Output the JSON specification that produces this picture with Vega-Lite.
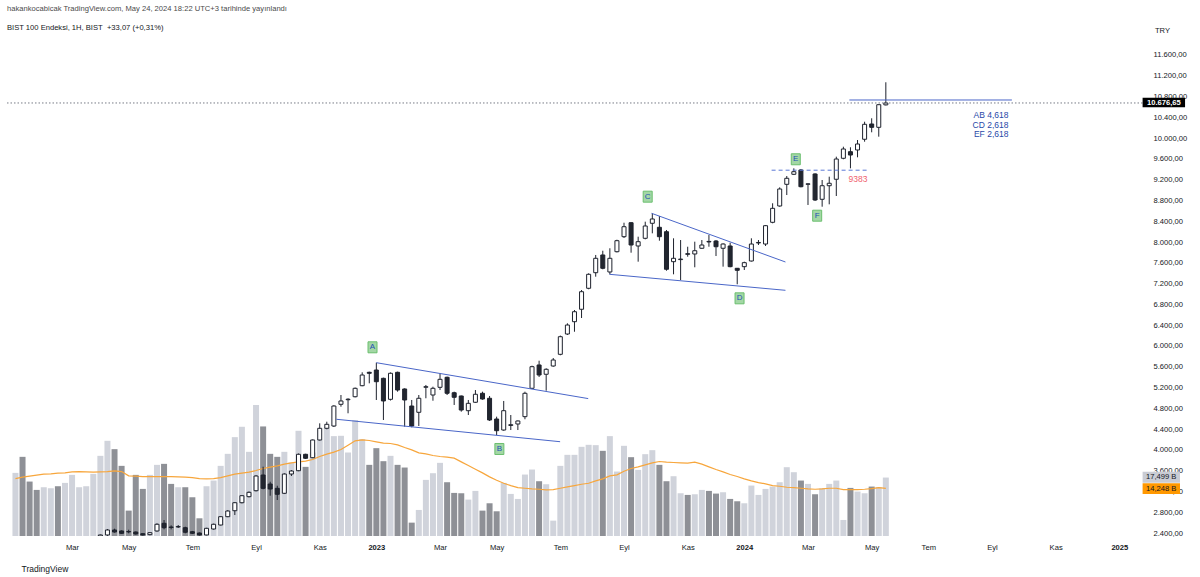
{
  "$schema": "https://vega.github.io/schema/vega-lite/v6.json",
  "width": 1139,
  "height": 496,
  "autosize": {"type": "none"},
  "padding": {"left": 7, "top": 40, "right": 54, "bottom": 41},
  "background": "white",
  "config": {"view": {"stroke": null}, "font": "Liberation Sans", "axis": {"labelOverlap": false}},
  "title": {
    "text": "hakankocabicak TradingView.com, May 24, 2024 18:22 UTC+3 tarihinde yayınlandı",
    "subtitle": "\u00a0\u00a0BIST 100 Endeksi, 1H, BIST\u00a0\u00a0+33,07 (+0,31%)",
    "anchor": "start", "frame": "group", "offset": -6,
    "font": "Liberation Sans", "fontSize": 7.6, "fontWeight": "normal", "color": "#4a4a4a",
    "subtitleFont": "Liberation Sans", "subtitleFontSize": 7.6, "subtitleColor": "#131722", "subtitlePadding": 12
  },
  "datasets": {
    "bars": [
      {"date":"2022-01-10","open":1900,"high":1990,"low":1890,"close":1975,"vol":18.9,"vma":17.2},
      {"date":"2022-01-17","open":1975,"high":1990,"low":1930,"close":1945,"vol":23.7,"vma":17.6},
      {"date":"2022-01-24","open":1945,"high":1960,"low":1900,"close":1920,"vol":16.3,"vma":17.9},
      {"date":"2022-01-31","open":1920,"high":1935,"low":1880,"close":1900,"vol":13.8,"vma":18.2},
      {"date":"2022-02-07","open":1900,"high":2000,"low":1895,"close":1990,"vol":14.6,"vma":18.5},
      {"date":"2022-02-14","open":1990,"high":2040,"low":1970,"close":2030,"vol":14.3,"vma":18.6},
      {"date":"2022-02-21","open":2030,"high":2045,"low":1950,"close":1990,"vol":14.9,"vma":18.8},
      {"date":"2022-02-28","open":1990,"high":2080,"low":1980,"close":2070,"vol":15.9,"vma":18.9},
      {"date":"2022-03-07","open":2070,"high":2140,"low":2030,"close":2130,"vol":18.3,"vma":19.2},
      {"date":"2022-03-14","open":2130,"high":2190,"low":2110,"close":2180,"vol":14.6,"vma":19.3},
      {"date":"2022-03-21","open":2180,"high":2240,"low":2160,"close":2230,"vol":14.9,"vma":19.2},
      {"date":"2022-03-28","open":2230,"high":2330,"low":2220,"close":2320,"vol":18.6,"vma":19.1},
      {"date":"2022-04-04","open":2340,"high":2370,"low":2330,"close":2362,"vol":24.0,"vma":19.2},
      {"date":"2022-04-11","open":2362,"high":2477,"low":2345,"close":2458,"vol":28.5,"vma":19.3},
      {"date":"2022-04-18","open":2458,"high":2483,"low":2406,"close":2419,"vol":26.0,"vma":19.5},
      {"date":"2022-04-25","open":2439,"high":2450,"low":2385,"close":2394,"vol":21.0,"vma":19.3},
      {"date":"2022-05-02","open":2428,"high":2463,"low":2394,"close":2422,"vol":7.6,"vma":18.0},
      {"date":"2022-05-09","open":2419,"high":2430,"low":2370,"close":2381,"vol":18.3,"vma":17.9},
      {"date":"2022-05-16","open":2387,"high":2395,"low":2350,"close":2362,"vol":14.1,"vma":17.8},
      {"date":"2022-05-23","open":2368,"high":2415,"low":2355,"close":2406,"vol":18.3,"vma":17.8},
      {"date":"2022-05-30","open":2439,"high":2587,"low":2425,"close":2568,"vol":21.3,"vma":17.8},
      {"date":"2022-06-06","open":2587,"high":2650,"low":2471,"close":2502,"vol":21.6,"vma":17.8},
      {"date":"2022-06-13","open":2515,"high":2548,"low":2471,"close":2507,"vol":15.6,"vma":17.8},
      {"date":"2022-06-20","open":2516,"high":2554,"low":2496,"close":2524,"vol":14.6,"vma":17.7},
      {"date":"2022-06-27","open":2502,"high":2521,"low":2394,"close":2414,"vol":14.6,"vma":17.6},
      {"date":"2022-07-04","open":2425,"high":2440,"low":2380,"close":2394,"vol":11.6,"vma":17.5},
      {"date":"2022-07-11","open":2400,"high":2410,"low":2350,"close":2362,"vol":5.3,"vma":17.2},
      {"date":"2022-07-18","open":2362,"high":2500,"low":2355,"close":2490,"vol":14.9,"vma":17.1},
      {"date":"2022-07-25","open":2477,"high":2580,"low":2465,"close":2568,"vol":16.6,"vma":17.2},
      {"date":"2022-08-01","open":2554,"high":2725,"low":2545,"close":2714,"vol":21.0,"vma":17.5},
      {"date":"2022-08-08","open":2714,"high":2840,"low":2705,"close":2823,"vol":24.6,"vma":18.0},
      {"date":"2022-08-15","open":2829,"high":2995,"low":2746,"close":2983,"vol":29.6,"vma":18.5},
      {"date":"2022-08-22","open":2983,"high":3130,"low":2970,"close":3118,"vol":32.7,"vma":18.8},
      {"date":"2022-08-29","open":3099,"high":3200,"low":3085,"close":3183,"vol":25.2,"vma":19.1},
      {"date":"2022-09-05","open":3214,"high":3515,"low":3200,"close":3497,"vol":39.2,"vma":19.6},
      {"date":"2022-09-12","open":3516,"high":3676,"low":3241,"close":3260,"vol":32.8,"vma":20.2},
      {"date":"2022-09-19","open":3343,"high":3387,"low":3118,"close":3247,"vol":24.6,"vma":20.6},
      {"date":"2022-09-26","open":3260,"high":3310,"low":3035,"close":3145,"vol":23.7,"vma":21.0},
      {"date":"2022-10-03","open":3164,"high":3550,"low":3150,"close":3535,"vol":25.2,"vma":21.5},
      {"date":"2022-10-10","open":3535,"high":3612,"low":3497,"close":3593,"vol":22.0,"vma":21.9},
      {"date":"2022-10-17","open":3599,"high":3930,"low":3590,"close":3915,"vol":31.5,"vma":22.2},
      {"date":"2022-10-24","open":3915,"high":3925,"low":3825,"close":3838,"vol":20.7,"vma":22.4},
      {"date":"2022-10-31","open":3849,"high":4200,"low":3840,"close":4190,"vol":25.0,"vma":22.9},
      {"date":"2022-11-07","open":4190,"high":4511,"low":4180,"close":4415,"vol":28.7,"vma":23.8},
      {"date":"2022-11-14","open":4415,"high":4542,"low":4396,"close":4492,"vol":32.5,"vma":24.5},
      {"date":"2022-11-21","open":4459,"high":4860,"low":4440,"close":4844,"vol":29.9,"vma":25.1},
      {"date":"2022-11-28","open":4877,"high":5056,"low":4831,"close":4941,"vol":30.0,"vma":25.9},
      {"date":"2022-12-05","open":4965,"high":4993,"low":4704,"close":4975,"vol":25.0,"vma":27.2},
      {"date":"2022-12-12","open":5023,"high":5200,"low":5010,"close":5185,"vol":34.7,"vma":28.5},
      {"date":"2022-12-19","open":5235,"high":5493,"low":5225,"close":5441,"vol":29.0,"vma":28.8},
      {"date":"2022-12-26","open":5493,"high":5505,"low":5281,"close":5474,"vol":21.3,"vma":28.6},
      {"date":"2023-01-02","open":5537,"high":5678,"low":4960,"close":5312,"vol":26.3,"vma":28.2},
      {"date":"2023-01-09","open":5377,"high":5390,"low":4575,"close":4941,"vol":22.4,"vma":27.8},
      {"date":"2023-01-16","open":4973,"high":5490,"low":4950,"close":5474,"vol":24.0,"vma":27.7},
      {"date":"2023-01-23","open":5493,"high":5505,"low":5120,"close":5152,"vol":21.3,"vma":27.3},
      {"date":"2023-01-30","open":5172,"high":5185,"low":4446,"close":4960,"vol":20.5,"vma":26.5},
      {"date":"2023-02-06","open":4844,"high":4960,"low":4434,"close":4459,"vol":4.0,"vma":25.8},
      {"date":"2023-02-13","open":4723,"high":5056,"low":4459,"close":4993,"vol":7.8,"vma":24.9},
      {"date":"2023-02-20","open":5205,"high":5249,"low":4993,"close":5216,"vol":16.8,"vma":24.6},
      {"date":"2023-02-27","open":5056,"high":5216,"low":4946,"close":5185,"vol":18.8,"vma":24.1},
      {"date":"2023-03-06","open":5204,"high":5474,"low":5152,"close":5358,"vol":21.9,"vma":23.8},
      {"date":"2023-03-13","open":5397,"high":5410,"low":5056,"close":5089,"vol":16.1,"vma":23.6},
      {"date":"2023-03-20","open":5100,"high":5120,"low":4864,"close":5012,"vol":12.9,"vma":23.3},
      {"date":"2023-03-27","open":5037,"high":5045,"low":4735,"close":4767,"vol":12.8,"vma":22.2},
      {"date":"2023-04-03","open":4754,"high":4960,"low":4671,"close":4896,"vol":10.9,"vma":21.1},
      {"date":"2023-04-10","open":4916,"high":5152,"low":4905,"close":5070,"vol":13.5,"vma":20.0},
      {"date":"2023-04-17","open":5089,"high":5120,"low":4965,"close":4979,"vol":7.6,"vma":18.9},
      {"date":"2023-04-24","open":4993,"high":5037,"low":4556,"close":4575,"vol":9.8,"vma":17.7},
      {"date":"2023-05-01","open":4594,"high":4639,"low":4286,"close":4369,"vol":7.4,"vma":16.7},
      {"date":"2023-05-08","open":4382,"high":4941,"low":4369,"close":4754,"vol":15.9,"vma":15.8},
      {"date":"2023-05-15","open":4470,"high":4671,"low":4382,"close":4485,"vol":12.6,"vma":15.1},
      {"date":"2023-05-22","open":4498,"high":4565,"low":4382,"close":4556,"vol":11.1,"vma":14.5},
      {"date":"2023-05-29","open":4639,"high":5120,"low":4589,"close":5089,"vol":18.4,"vma":14.3},
      {"date":"2023-06-05","open":5185,"high":5620,"low":5170,"close":5601,"vol":19.9,"vma":14.1},
      {"date":"2023-06-12","open":5634,"high":5716,"low":5403,"close":5441,"vol":16.4,"vma":14.0},
      {"date":"2023-06-19","open":5455,"high":5570,"low":5139,"close":5551,"vol":15.5,"vma":13.8},
      {"date":"2023-06-26","open":5614,"high":5768,"low":5600,"close":5730,"vol":4.6,"vma":13.9},
      {"date":"2023-07-03","open":5839,"high":6200,"low":5820,"close":6178,"vol":21.0,"vma":14.3},
      {"date":"2023-07-10","open":6230,"high":6436,"low":6211,"close":6403,"vol":24.3,"vma":14.7},
      {"date":"2023-07-17","open":6467,"high":6692,"low":6274,"close":6659,"vol":24.3,"vma":15.1},
      {"date":"2023-07-24","open":6706,"high":7077,"low":6538,"close":7044,"vol":26.7,"vma":15.5},
      {"date":"2023-07-31","open":7110,"high":7398,"low":7091,"close":7379,"vol":27.3,"vma":15.8},
      {"date":"2023-08-07","open":7410,"high":7751,"low":7333,"close":7687,"vol":27.2,"vma":16.5},
      {"date":"2023-08-14","open":7751,"high":7833,"low":7476,"close":7495,"vol":25.5,"vma":17.1},
      {"date":"2023-08-21","open":7424,"high":7880,"low":7379,"close":7687,"vol":29.9,"vma":18.0},
      {"date":"2023-08-28","open":7814,"high":8045,"low":7800,"close":8026,"vol":19.3,"vma":18.3},
      {"date":"2023-09-04","open":8103,"high":8372,"low":8078,"close":8295,"vol":27.0,"vma":19.4},
      {"date":"2023-09-11","open":8372,"high":8380,"low":7795,"close":7943,"vol":23.6,"vma":20.2},
      {"date":"2023-09-18","open":7924,"high":8103,"low":7622,"close":8007,"vol":19.8,"vma":20.7},
      {"date":"2023-09-25","open":8072,"high":8392,"low":8052,"close":8309,"vol":24.5,"vma":21.3},
      {"date":"2023-10-02","open":8361,"high":8553,"low":8168,"close":8444,"vol":25.7,"vma":21.9},
      {"date":"2023-10-09","open":8284,"high":8501,"low":8026,"close":8103,"vol":21.3,"vma":22.3},
      {"date":"2023-10-16","open":8199,"high":8232,"low":7448,"close":7476,"vol":16.4,"vma":22.1},
      {"date":"2023-10-23","open":7622,"high":8072,"low":7379,"close":7687,"vol":17.9,"vma":22.0},
      {"date":"2023-10-30","open":7662,"high":8039,"low":7269,"close":7672,"vol":12.8,"vma":21.9},
      {"date":"2023-11-06","open":7775,"high":7910,"low":7718,"close":7765,"vol":12.3,"vma":21.8},
      {"date":"2023-11-13","open":7770,"high":8007,"low":7514,"close":7833,"vol":12.5,"vma":22.1},
      {"date":"2023-11-20","open":7880,"high":8039,"low":7870,"close":7943,"vol":13.8,"vma":21.5},
      {"date":"2023-11-27","open":8012,"high":8135,"low":7910,"close":8002,"vol":13.5,"vma":20.7},
      {"date":"2023-12-04","open":8020,"high":8039,"low":7731,"close":7910,"vol":12.7,"vma":19.9},
      {"date":"2023-12-11","open":7880,"high":7975,"low":7526,"close":7962,"vol":13.1,"vma":19.2},
      {"date":"2023-12-18","open":7924,"high":7987,"low":7514,"close":7526,"vol":11.1,"vma":18.4},
      {"date":"2023-12-25","open":7495,"high":7500,"low":7187,"close":7456,"vol":10.4,"vma":17.8},
      {"date":"2024-01-01","open":7526,"high":7622,"low":7462,"close":7603,"vol":9.8,"vma":17.1},
      {"date":"2024-01-08","open":7635,"high":8072,"low":7625,"close":7962,"vol":15.1,"vma":16.5},
      {"date":"2024-01-15","open":7982,"high":8039,"low":7943,"close":7992,"vol":12.3,"vma":16.0},
      {"date":"2024-01-22","open":7962,"high":8328,"low":7924,"close":8315,"vol":14.1,"vma":15.6},
      {"date":"2024-01-29","open":8380,"high":8746,"low":8361,"close":8649,"vol":14.8,"vma":15.1},
      {"date":"2024-02-05","open":8694,"high":9053,"low":8680,"close":9021,"vol":16.1,"vma":14.9},
      {"date":"2024-02-12","open":9111,"high":9271,"low":8905,"close":9227,"vol":20.6,"vma":14.6},
      {"date":"2024-02-19","open":9304,"high":9419,"low":9290,"close":9354,"vol":19.1,"vma":14.5},
      {"date":"2024-02-26","open":9387,"high":9406,"low":9053,"close":9065,"vol":16.6,"vma":14.3},
      {"date":"2024-03-04","open":9112,"high":9131,"low":8713,"close":9120,"vol":15.6,"vma":14.1},
      {"date":"2024-03-11","open":9310,"high":9323,"low":8790,"close":8809,"vol":12.5,"vma":14.0},
      {"date":"2024-03-18","open":8823,"high":9194,"low":8680,"close":9084,"vol":14.3,"vma":14.1},
      {"date":"2024-03-25","open":9084,"high":9258,"low":8726,"close":9131,"vol":15.6,"vma":14.3},
      {"date":"2024-04-01","open":9208,"high":9643,"low":8886,"close":9598,"vol":16.6,"vma":14.3},
      {"date":"2024-04-08","open":9612,"high":9835,"low":9593,"close":9791,"vol":4.8,"vma":13.9},
      {"date":"2024-04-15","open":9739,"high":9824,"low":9419,"close":9675,"vol":14.4,"vma":13.9},
      {"date":"2024-04-22","open":9772,"high":9964,"low":9631,"close":9887,"vol":13.3,"vma":13.9},
      {"date":"2024-04-29","open":9978,"high":10316,"low":9931,"close":10266,"vol":12.8,"vma":14.0},
      {"date":"2024-05-06","open":10272,"high":10382,"low":10112,"close":10208,"vol":14.8,"vma":14.2},
      {"date":"2024-05-13","open":10208,"high":10650,"low":10028,"close":10643.58,"vol":14.6,"vma":14.5},
      {"date":"2024-05-20","open":10640,"high":11075,"low":10630,"close":10676.65,"vol":17.499,"vma":14.248}
    ],
    "trend": [
      {"d1":"2023-01-02T00:00:00Z","p1":5678,"d2":"2023-07-30T14:00:00Z","p2":4987},
      {"d1":"2022-11-23T11:30:00Z","p1":4589,"d2":"2023-07-02T19:00:00Z","p2":4157},
      {"d1":"2023-10-01T07:00:00Z","p1":8553,"d2":"2024-02-10T17:00:00Z","p2":7616},
      {"d1":"2023-08-20T14:00:00Z","p1":7379,"d2":"2024-02-10T17:00:00Z","p2":7071},
      {"d1":"2024-04-13T22:00:00Z","p1":10734,"d2":"2024-09-21T17:00:00Z","p2":10734}
    ],
    "dashed": [
      {"d1":"2024-01-28T00:00:00Z","p1":9383,"d2":"2024-05-01T19:00:00Z","p2":9383}
    ],
    "letters": [
      {"lbl":"A","date":"2022-12-29T05:00:00Z","price":5974},
      {"lbl":"B","date":"2023-05-03T17:00:00Z","price":4017},
      {"lbl":"C","date":"2023-09-27T10:00:00Z","price":8873},
      {"lbl":"D","date":"2023-12-27T07:00:00Z","price":6917},
      {"lbl":"E","date":"2024-02-20T22:00:00Z","price":9593},
      {"lbl":"F","date":"2024-03-13T02:00:00Z","price":8507}
    ]
  },
  "layer": [
    {
      "data": {"name": "bars"},
      "layer": [
        {
          "mark": {"type": "bar", "size": 6, "clip": true},
          "encoding": {
            "x": {
              "field": "date", "type": "temporal",
              "scale": {"type": "utc", "domain": [1641477600000, 1737972000000]},
              "axis": {
                "values": [1646611200000, 1651449600000, 1656892800000, 1662336000000, 1667779200000, 1672617600000, 1678060800000, 1682899200000, 1688342400000, 1693785600000, 1699228800000, 1704067200000, 1709510400000, 1714953600000, 1719792000000, 1725235200000, 1730678400000, 1736121600000],
                "tickCount": 40,
                "labelExpr": "utcmonth(datum.value) == 0 ? utcFormat(datum.value, '%Y') : ['Oca','Şub','Mar','Nis','May','Haz','Tem','Ağu','Eyl','Eki','Kas','Ara'][utcmonth(datum.value)]",
                "labelFontWeight": {"condition": {"test": "utcmonth(datum.value) == 0", "value": "bold"}, "value": "normal"},
                "labelFontSize": 7.6, "labelColor": "#131722", "labelPadding": 7,
                "labelOverlap": false, "labelFlush": false,
                "ticks": false, "domain": false, "grid": false,
                "title": "TradingView", "titleX": 14, "titleY": 32, "titleAlign": "left",
                "titleBaseline": "middle", "titleFontSize": 8.5, "titleFontWeight": "normal", "titleColor": "#131722"
              }
            },
            "y": {"field": "vol", "type": "quantitative", "scale": {"domain": [0, 148.5], "nice": false}, "axis": null},
            "color": {"condition": {"test": "datum.close >= datum.open", "value": "#d0d3db"}, "value": "#8e9096"}
          }
        },
        {
          "mark": {"type": "line", "color": "#f7a63c", "strokeWidth": 1.2, "clip": true},
          "encoding": {
            "x": {"field": "date", "type": "temporal"},
            "y": {"field": "vma", "type": "quantitative"}
          }
        },
        {
          "data": {"values": [{}]},
          "mark": {"type": "rect", "color": "#c9ccd4", "clip": false},
          "encoding": {
            "x": {"datum": 1738108800000, "type": "temporal"},
            "x2": {"datum": 1741305600000},
            "y": {"datum": 19.25, "type": "quantitative"},
            "y2": {"datum": 15.96}
          }
        },
        {
          "data": {"values": [{}]},
          "mark": {"type": "rect", "color": "#ff9800", "clip": false},
          "encoding": {
            "x": {"datum": 1738108800000, "type": "temporal"},
            "x2": {"datum": 1741305600000},
            "y": {"datum": 15.78, "type": "quantitative"},
            "y2": {"datum": 12.57}
          }
        },
        {
          "data": {"values": [{"txt": "17,499 B", "v": 17.6}, {"txt": "14,248 B", "v": 14.17}]},
          "mark": {"type": "text", "fontSize": 7.6, "color": "#131722", "align": "center", "baseline": "middle", "clip": false},
          "encoding": {
            "x": {"datum": 1739700000000, "type": "temporal"},
            "y": {"field": "v", "type": "quantitative"},
            "text": {"field": "txt"}
          }
        }
      ]
    },
    {
      "layer": [
        {
          "data": {"name": "bars"},
          "mark": {"type": "rule", "color": "#1e222d", "strokeWidth": 1, "clip": true},
          "encoding": {
            "x": {"field": "date", "type": "temporal"},
            "y": {
              "field": "low", "type": "quantitative",
              "scale": {"domain": [2342.3, 11888.7], "nice": false, "zero": false},
              "axis": {
                "orient": "right",
                "values": [2400, 2800, 3200, 3600, 4000, 4400, 4800, 5200, 5600, 6000, 6400, 6800, 7200, 7600, 8000, 8400, 8800, 9200, 9600, 10000, 10400, 10800, 11200, 11600],
                "tickCount": 40,
                "labelExpr": "replace(replace(replace(format(datum.value, ',.2f'), ',', '_'), '.', ','), '_', '.')",
                "labelAlign": "left", "labelBaseline": "middle", "labelPadding": 7,
                "labelFontSize": 7.6, "labelColor": "#131722", "labelOverlap": false,
                "ticks": false, "domain": false, "grid": false,
                "title": "TRY", "titleAngle": 0, "titleX": 16, "titleY": -10,
                "titleAlign": "center", "titleBaseline": "middle",
                "titleFontSize": 7.6, "titleFontWeight": "normal", "titleColor": "#131722"
              }
            },
            "y2": {"field": "high"}
          }
        },
        {
          "data": {"name": "bars"},
          "mark": {"type": "bar", "size": 4, "stroke": "#1e222d", "strokeWidth": 1, "clip": true},
          "encoding": {
            "x": {"field": "date", "type": "temporal"},
            "y": {"field": "open", "type": "quantitative"},
            "y2": {"field": "close"},
            "fill": {"condition": {"test": "datum.close >= datum.open", "value": "#ffffff"}, "value": "#22262f"}
          }
        },
        {
          "data": {"values": [{}]},
          "mark": {"type": "rule", "color": "#787b86", "strokeWidth": 1, "strokeDash": [1.5, 2]},
          "encoding": {"y": {"datum": 10676.65, "type": "quantitative"}}
        },
        {
          "data": {"name": "trend"},
          "mark": {"type": "rule", "color": "#4a66c8", "strokeWidth": 1},
          "encoding": {
            "x": {"field": "d1", "type": "temporal"},
            "x2": {"field": "d2"},
            "y": {"field": "p1", "type": "quantitative"},
            "y2": {"field": "p2"}
          }
        },
        {
          "data": {"name": "dashed"},
          "mark": {"type": "rule", "color": "#5a78d6", "strokeWidth": 1, "strokeDash": [4, 3]},
          "encoding": {
            "x": {"field": "d1", "type": "temporal"},
            "x2": {"field": "d2"},
            "y": {"field": "p1", "type": "quantitative"},
            "y2": {"field": "p2"}
          }
        },
        {
          "data": {"name": "letters"},
          "mark": {"type": "point", "shape": "M-0.82,-1H0.82V1H-0.82Z", "size": 121, "filled": true, "fill": "#a3d7a5", "stroke": "#6cbf6f", "strokeWidth": 1, "opacity": 1},
          "encoding": {
            "x": {"field": "date", "type": "temporal"},
            "y": {"field": "price", "type": "quantitative"}
          }
        },
        {
          "data": {"name": "letters"},
          "mark": {"type": "text", "fontSize": 8, "color": "#1f4fb5", "align": "center", "baseline": "middle"},
          "encoding": {
            "x": {"field": "date", "type": "temporal"},
            "y": {"field": "price", "type": "quantitative"},
            "text": {"field": "lbl"}
          }
        },
        {
          "data": {"values": [{"txt": "9383"}]},
          "mark": {"type": "text", "fontSize": 8.5, "color": "#f0616d", "align": "center", "baseline": "middle"},
          "encoding": {
            "x": {"datum": 1713787200000, "type": "temporal"},
            "y": {"datum": 9219, "type": "quantitative"},
            "text": {"field": "txt"}
          }
        },
        {
          "data": {"values": [{}]},
          "mark": {"type": "text", "text": ["AB 4,618", "CD 2,618", "EF 2,618"], "lineHeight": 9.3, "fontSize": 8.5, "color": "#2848a8", "align": "right", "baseline": "middle"},
          "encoding": {
            "x": {"datum": 1726642800000, "type": "temporal"},
            "y": {"datum": 10439, "type": "quantitative"}
          }
        },
        {
          "data": {"values": [{}]},
          "mark": {"type": "rect", "color": "#000000", "clip": false},
          "encoding": {
            "x": {"datum": 1738108800000, "type": "temporal"},
            "x2": {"datum": 1741737600000},
            "y": {"datum": 10778, "type": "quantitative"},
            "y2": {"datum": 10593}
          }
        },
        {
          "data": {"values": [{"txt": "10.676,65"}]},
          "mark": {"type": "text", "fontSize": 7.6, "fontWeight": "bold", "color": "#ffffff", "align": "center", "baseline": "middle", "clip": false},
          "encoding": {
            "x": {"datum": 1739923200000, "type": "temporal"},
            "y": {"datum": 10676.65, "type": "quantitative"},
            "text": {"field": "txt"}
          }
        }
      ]
    }
  ],
  "resolve": {"scale": {"y": "independent"}}
}
